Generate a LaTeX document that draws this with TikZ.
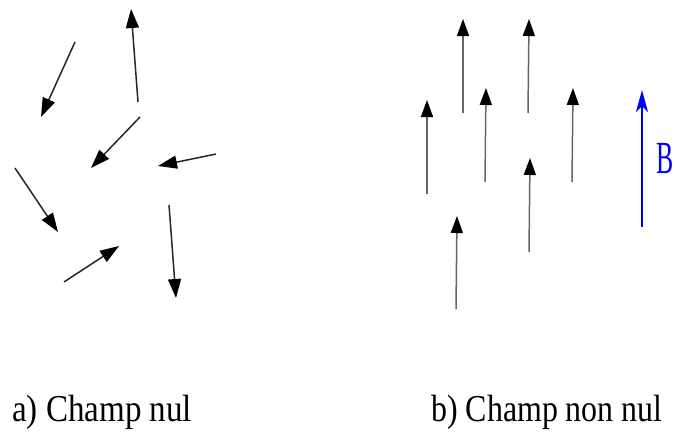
\documentclass[tikz,border=0pt]{standalone}
\usepackage{fontspec}
\setmainfont{Liberation Serif}
\usetikzlibrary{arrows.meta}
\begin{document}
\begin{tikzpicture}[x=1pt,y=-1pt,
  vecA/.style={draw=black!85,line width=1.5pt,-{Triangle[length=19pt,width=13pt,color=black]}},
  vecB/.style={draw=black!60,line width=1.5pt,-{Triangle[length=17pt,width=12pt,color=black]}},
  vecField/.style={draw=blue,line width=1.7pt,-{Stealth[length=22pt,width=12pt,inset=6pt]}},
  caption/.style={inner sep=0pt,anchor=base west}]
\useasboundingbox (0,0) rectangle (675,439);
% left panel: random orientations
\coordinate (a1t) at (75,42);   \coordinate (a1h) at (41,117);
\coordinate (a2t) at (138,102); \coordinate (a2h) at (131,9);
\coordinate (a3t) at (140,117); \coordinate (a3h) at (91,168);
\coordinate (a4t) at (216,154); \coordinate (a4h) at (158,166);
\coordinate (a5t) at (15,168);  \coordinate (a5h) at (58,232);
\coordinate (a6t) at (64,282);  \coordinate (a6h) at (119,246);
\coordinate (a7t) at (169,205); \coordinate (a7h) at (176,298);
\foreach \i in {1,...,7} \draw[vecA] (a\i t) -- (a\i h);
% right panel: aligned moments
\coordinate (b1t) at (463,113); \coordinate (b1h) at (463,19);
\coordinate (b2t) at (528,113); \coordinate (b2h) at (529,19);
\coordinate (b3t) at (427,194); \coordinate (b3h) at (427,100);
\coordinate (b4t) at (485,182); \coordinate (b4h) at (486,88);
\coordinate (b5t) at (572,182); \coordinate (b5h) at (573,88);
\coordinate (b6t) at (529,252); \coordinate (b6h) at (530,158);
\coordinate (b7t) at (456,309); \coordinate (b7h) at (457,216);
\foreach \i in {1,...,7} \draw[vecB] (b\i t) -- (b\i h);
% field B
\coordinate (Bt) at (642,227); \coordinate (Bh) at (642,90);
\draw[vecField] (Bt) -- (Bh);
\node[anchor=west,text=blue,inner sep=0pt] (Blab) at (656.5,159) {\scalebox{0.56}[1]{\fontsize{46}{50}\selectfont B}};
% captions
\node[caption] (capa) at (12,421) {\scalebox{0.87}[1]{\fontsize{38}{44}\selectfont a) Champ nul}};
\node[caption] (capb) at (431,421) {\scalebox{0.84}[1]{\fontsize{38}{44}\selectfont b) Champ non nul}};
\end{tikzpicture}
\end{document}
